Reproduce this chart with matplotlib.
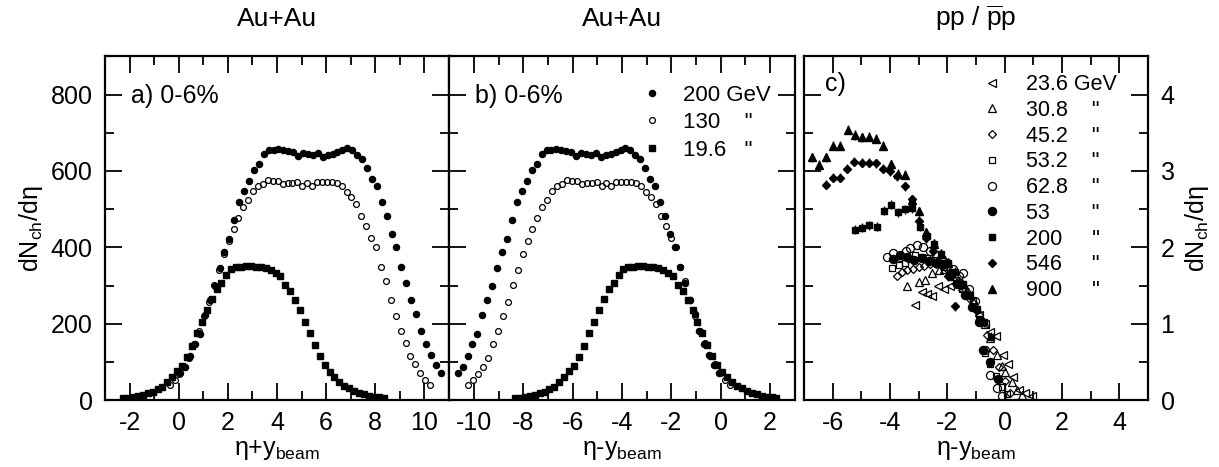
"""Charged-particle pseudorapidity densities, Au+Au vs pp/ppbar, in the beam frame."""

import matplotlib.pyplot as plt
from matplotlib.ticker import MultipleLocator

plt.rcParams['font.family'] = ['Liberation Sans', 'DejaVu Sans']
plt.rcParams['mathtext.fontset'] = 'custom'
plt.rcParams['mathtext.rm'] = 'Liberation Sans'
plt.rcParams['mathtext.it'] = 'Liberation Sans:italic'
plt.rcParams['axes.unicode_minus'] = False

# Au+Au 0-6% central, eta bin centres
eta_auau = [-5.3, -5.1, -4.9, -4.7, -4.5, -4.3, -4.1, -3.9, -3.7, -3.5,
            -3.3, -3.1, -2.9, -2.7, -2.5, -2.3, -2.1, -1.9, -1.7, -1.5,
            -1.3, -1.1, -0.9, -0.7, -0.5, -0.3, -0.1, 0.1, 0.3, 0.5,
            0.7, 0.9, 1.1, 1.3, 1.5, 1.7, 1.9, 2.1, 2.3, 2.5,
            2.7, 2.9, 3.1, 3.3, 3.5, 3.7, 3.9, 4.1, 4.3, 4.5,
            4.7, 4.9, 5.1, 5.3]
dn_200 = [72, 88, 116, 147, 174, 224, 263, 298, 347, 388,
          421, 472, 520, 548, 575, 602, 619, 645, 654, 656,
          658, 656, 653, 649, 640, 648, 645, 643, 647, 637,
          643, 645, 649, 656, 660, 656, 643, 631, 609, 579,
          561, 518, 481, 436, 402, 350, 306, 263, 225, 182,
          148, 118, 92, 72]
dn_130 = [40, 53, 68, 88, 110, 148, 182, 221, 256, 302,
          341, 382, 417, 448, 476, 505, 525, 548, 560, 566,
          577, 575, 575, 566, 568, 568, 572, 560, 568, 560,
          572, 570, 570, 572, 568, 561, 546, 533, 513, 481,
          457, 425, 400, 350, 311, 263, 221, 182, 149, 117,
          94, 71, 53, 40]
dn_19 = [5, 7, 9, 11, 14, 18, 23, 29, 36, 49,
         62, 77, 90, 114, 143, 175, 206, 237, 265, 290,
         308, 328, 343, 348, 350, 352, 352, 350, 348, 346,
         341, 333, 324, 302, 285, 263, 237, 206, 176, 145,
         116, 92, 75, 62, 49, 38, 31, 25, 20, 16,
         12, 9, 8, 5]
ybeam_200, ybeam_130, ybeam_19 = 5.36, 4.93, 3.04

# pp / ppbar, already in eta - y_beam
pp236_x = [-3.13, -2.90, -2.72, -2.55, -2.32, -2.10, -1.90, -1.70, -1.50, -1.30,
           -1.10, -0.90, -0.70, -0.50, -0.30, -0.07, 0.13, 0.30, 0.51, 0.71, 0.94]
pp236_y = [1.25, 1.42, 1.39, 1.37, 1.49, 1.46, 1.50, 1.52, 1.44, 1.36,
           1.24, 1.12, 1.00, 0.90, 0.84, 0.59, 0.48, 0.30, 0.14, 0.09, 0.05]
pp308_x = [-3.40, -3.00, -2.78, -2.55, -2.30, -2.10, -1.90, -1.70, -1.50, -1.30,
           -1.10, -0.90, -0.70, -0.50, -0.28, -0.10, 0.01, 0.24, 0.42, 0.60]
pp308_y = [1.50, 1.55, 1.57, 1.66, 1.70, 1.72, 1.68, 1.62, 1.52, 1.42,
           1.30, 1.15, 1.00, 0.82, 0.59, 0.45, 0.37, 0.24, 0.13, 0.07]
pp452_x = [-3.77, -3.59, -3.42, -3.20, -3.00, -2.80, -2.60, -2.40, -2.20, -2.00,
           -1.80, -1.60, -1.40, -1.20, -1.00, -0.80, -0.60, -0.40, -0.20, 0.00, 0.20]
pp452_y = [1.62, 1.68, 1.70, 1.72, 1.74, 1.76, 1.78, 1.78, 1.76, 1.72,
           1.66, 1.56, 1.45, 1.32, 1.18, 1.02, 0.85, 0.66, 0.44, 0.25, 0.10]
pp532_x = [-3.94, -3.70, -3.48, -3.30, -3.13, -2.90, -2.70, -2.50, -2.30, -2.10,
           -1.90, -1.70, -1.50, -1.30, -1.10, -0.90, -0.70, -0.50, -0.30, -0.10, 0.07]
pp532_y = [1.73, 1.77, 1.79, 1.85, 1.90, 1.88, 1.86, 1.84, 1.80, 1.74,
           1.66, 1.57, 1.46, 1.38, 1.30, 1.05, 0.62, 0.48, 0.32, 0.18, 0.08]
pp628_x = [-4.12, -3.88, -3.65, -3.45, -3.30, -3.07, -2.85, -2.60, -2.40, -2.20,
           -2.00, -1.80, -1.60, -1.47, -1.25, -1.05, -0.85, -0.70, -0.50, -0.28, -0.10]
pp628_y = [1.88, 1.93, 1.88, 1.95, 1.99, 2.03, 2.00, 1.95, 1.90, 1.85,
           1.80, 1.72, 1.62, 1.66, 1.45, 1.30, 1.05, 0.66, 0.33, 0.16, 0.05]
pp53_x = [-3.90, -3.65, -3.40, -3.15, -2.90, -2.65, -2.40, -2.15, -1.90, -1.65,
          -1.40, -1.15, -0.90, -0.75, -0.50, -0.25]
pp53_y = [1.85, 1.90, 1.88, 1.84, 1.86, 1.82, 1.80, 1.78, 1.62, 1.52,
          1.38, 1.22, 1.02, 0.66, 0.50, 0.28]
pp200_x = [-5.22, -4.97, -4.72, -4.47, -4.22, -3.97, -3.72, -3.47, -3.22, -2.97,
           -2.72, -2.47, -2.22, -1.97, -1.72, -1.47, -1.22, -0.97, -0.72, -0.47]
pp200_y = [2.23, 2.26, 2.29, 2.27, 2.48, 2.56, 2.46, 2.50, 2.51, 2.27,
           2.15, 2.05, 1.92, 1.80, 1.68, 1.52, 1.38, 1.20, 1.02, 0.83]
pp546_x = [-6.24, -5.99, -5.74, -5.49, -5.24, -4.99, -4.74, -4.49, -4.24, -3.99,
           -3.74, -3.49, -3.24, -2.99, -2.74, -2.49, -2.24, -1.99, -1.74]
pp546_y = [2.82, 2.91, 2.91, 3.03, 3.12, 3.11, 3.11, 3.10, 3.03, 3.00,
           2.93, 2.80, 2.63, 2.35, 2.12, 1.95, 1.80, 1.62, 1.23]
pp900_x = [-6.73, -6.48, -6.23, -5.98, -5.73, -5.48, -5.23, -4.98, -4.73, -4.48,
           -4.23, -3.98, -3.73, -3.48, -3.23, -2.98, -2.73, -2.48, -2.23, -1.98]
pp900_y = [3.18, 3.08, 3.18, 3.33, 3.33, 3.54, 3.47, 3.44, 3.45, 3.42,
           3.33, 3.09, 2.96, 2.95, 2.62, 2.47, 2.20, 2.05, 1.92, 1.80]

FS = 18
W, H = 1219, 467


def style_axes(ax, xmaj, ymaj, ymin):
    for s in ax.spines.values():
        s.set_linewidth(1.6)
    ax.xaxis.set_major_locator(MultipleLocator(xmaj))
    ax.xaxis.set_minor_locator(MultipleLocator(xmaj / 2))
    ax.yaxis.set_major_locator(MultipleLocator(ymaj))
    ax.yaxis.set_minor_locator(MultipleLocator(ymin))
    ax.tick_params(which='both', direction='in', top=True, bottom=True,
                   left=True, right=True, width=1.3, labelsize=FS)
    ax.tick_params(which='major', length=12)
    ax.tick_params(which='minor', length=6.5)
    ax.tick_params(axis='x', pad=8)
    ax.tick_params(axis='y', pad=9)


fig = plt.figure(figsize=(W / 100, H / 100), dpi=100)
bottom, height = (467 - 400.3) / H, 344 / H
ax_a = fig.add_axes([105 / W, bottom, 344 / W, height])
ax_b = fig.add_axes([449.3 / W, bottom, 345.4 / W, height])
ax_c = fig.add_axes([804 / W, bottom, 344 / W, height])

circ = dict(marker='o', ms=4.4, color='black', ls='none')
ocirc = dict(marker='o', ms=4.2, mfc='none', mec='black', mew=0.9, ls='none')
sq = dict(marker='s', ms=4.0, color='black', ls='none')

for ax, sign in ((ax_a, 1), (ax_b, -1)):
    h1, = ax.plot([e + sign * ybeam_200 for e in eta_auau], dn_200, **circ)
    h2, = ax.plot([e + sign * ybeam_130 for e in eta_auau], dn_130, **ocirc)
    h3, = ax.plot([e + sign * ybeam_19 for e in eta_auau], dn_19, **sq)
    ax.set_ylim(0, 900)
    style_axes(ax, 2, 200, 100)

ax_a.set_xlim(-3, 11)
ax_b.set_xlim(-11, 3)
ax_b.tick_params(labelleft=False)
ax_a.set_ylabel(r'dN$_{\mathrm{ch}}$/dη', fontsize=FS, labelpad=4)
ax_a.set_xlabel(r'η+y$_{\mathrm{beam}}$', fontsize=FS, labelpad=2)
ax_b.set_xlabel(r'η-y$_{\mathrm{beam}}$', fontsize=FS, labelpad=2)
ax_a.set_title('Au+Au', fontsize=19, pad=22)
ax_b.set_title('Au+Au', fontsize=19, pad=22)
ax_a.text(0.075, 0.886, 'a) 0-6%', transform=ax_a.transAxes, fontsize=FS,
          va='center', ha='left')
ax_b.text(0.075, 0.886, 'b) 0-6%', transform=ax_b.transAxes, fontsize=FS,
          va='center', ha='left')
ax_b.legend([h1, h2, h3], ['200 GeV', '130    "', '19.6   "'],
            loc='upper left', bbox_to_anchor=(0.555, 0.918), frameon=False,
            fontsize=16, handlelength=1.0, handletextpad=0.9,
            borderpad=0, borderaxespad=0, labelspacing=0.3, markerscale=1.0)

# pp / ppbar panel
omk = dict(mfc='none', mec='black', mew=0.9, ls='none', color='black')
smk = dict(color='black', ls='none')
handles = []
handles.append(ax_c.plot(pp236_x, pp236_y, marker='<', ms=5.5, **omk)[0])
handles.append(ax_c.plot(pp308_x, pp308_y, marker='^', ms=5.5, **omk)[0])
handles.append(ax_c.plot(pp452_x, pp452_y, marker='D', ms=4.3, **omk)[0])
handles.append(ax_c.plot(pp532_x, pp532_y, marker='s', ms=4.8, **omk)[0])
handles.append(ax_c.plot(pp628_x, pp628_y, marker='o', ms=5.8, **omk)[0])
handles.append(ax_c.plot(pp53_x, pp53_y, marker='o', ms=5.8, **smk)[0])
for xs, ys, mk, ms in ((pp200_x, pp200_y, 's', 5), (pp546_x, pp546_y, 'D', 4.5),
                       (pp900_x, pp900_y, '^', 5.5)):
    ax_c.errorbar(xs, ys, yerr=0.06, fmt='none', ecolor='black', elinewidth=1.0)
    handles.append(ax_c.plot(xs, ys, marker=mk, ms=ms, **smk)[0])

ax_c.set_xlim(-7, 5)
ax_c.set_ylim(0, 4.5)
style_axes(ax_c, 2, 1, 0.5)
ax_c.tick_params(labelleft=False, labelright=True)
ax_c.yaxis.set_label_position('right')
ax_c.set_ylabel(r'dN$_{\mathrm{ch}}$/dη', fontsize=FS, labelpad=6)
ax_c.set_xlabel(r'η-y$_{\mathrm{beam}}$', fontsize=FS, labelpad=2)
ax_c.set_title(r'pp / $\overline{\mathrm{p}}$p', fontsize=19, pad=22)
ax_c.text(0.06, 0.92, 'c)', transform=ax_c.transAxes, fontsize=FS,
          va='center', ha='left')
ax_c.legend(handles, ['23.6 GeV', '30.8    "', '45.2    "', '53.2    "',
                      '62.8    "', '53       "', '200     "', '546     "',
                      '900     "'],
            loc='upper left', bbox_to_anchor=(0.515, 0.948), frameon=False,
            fontsize=15.5, handlelength=1.0, handletextpad=1.1,
            borderpad=0, borderaxespad=0, labelspacing=0.22)

fig.savefig('out.png', dpi=100)
